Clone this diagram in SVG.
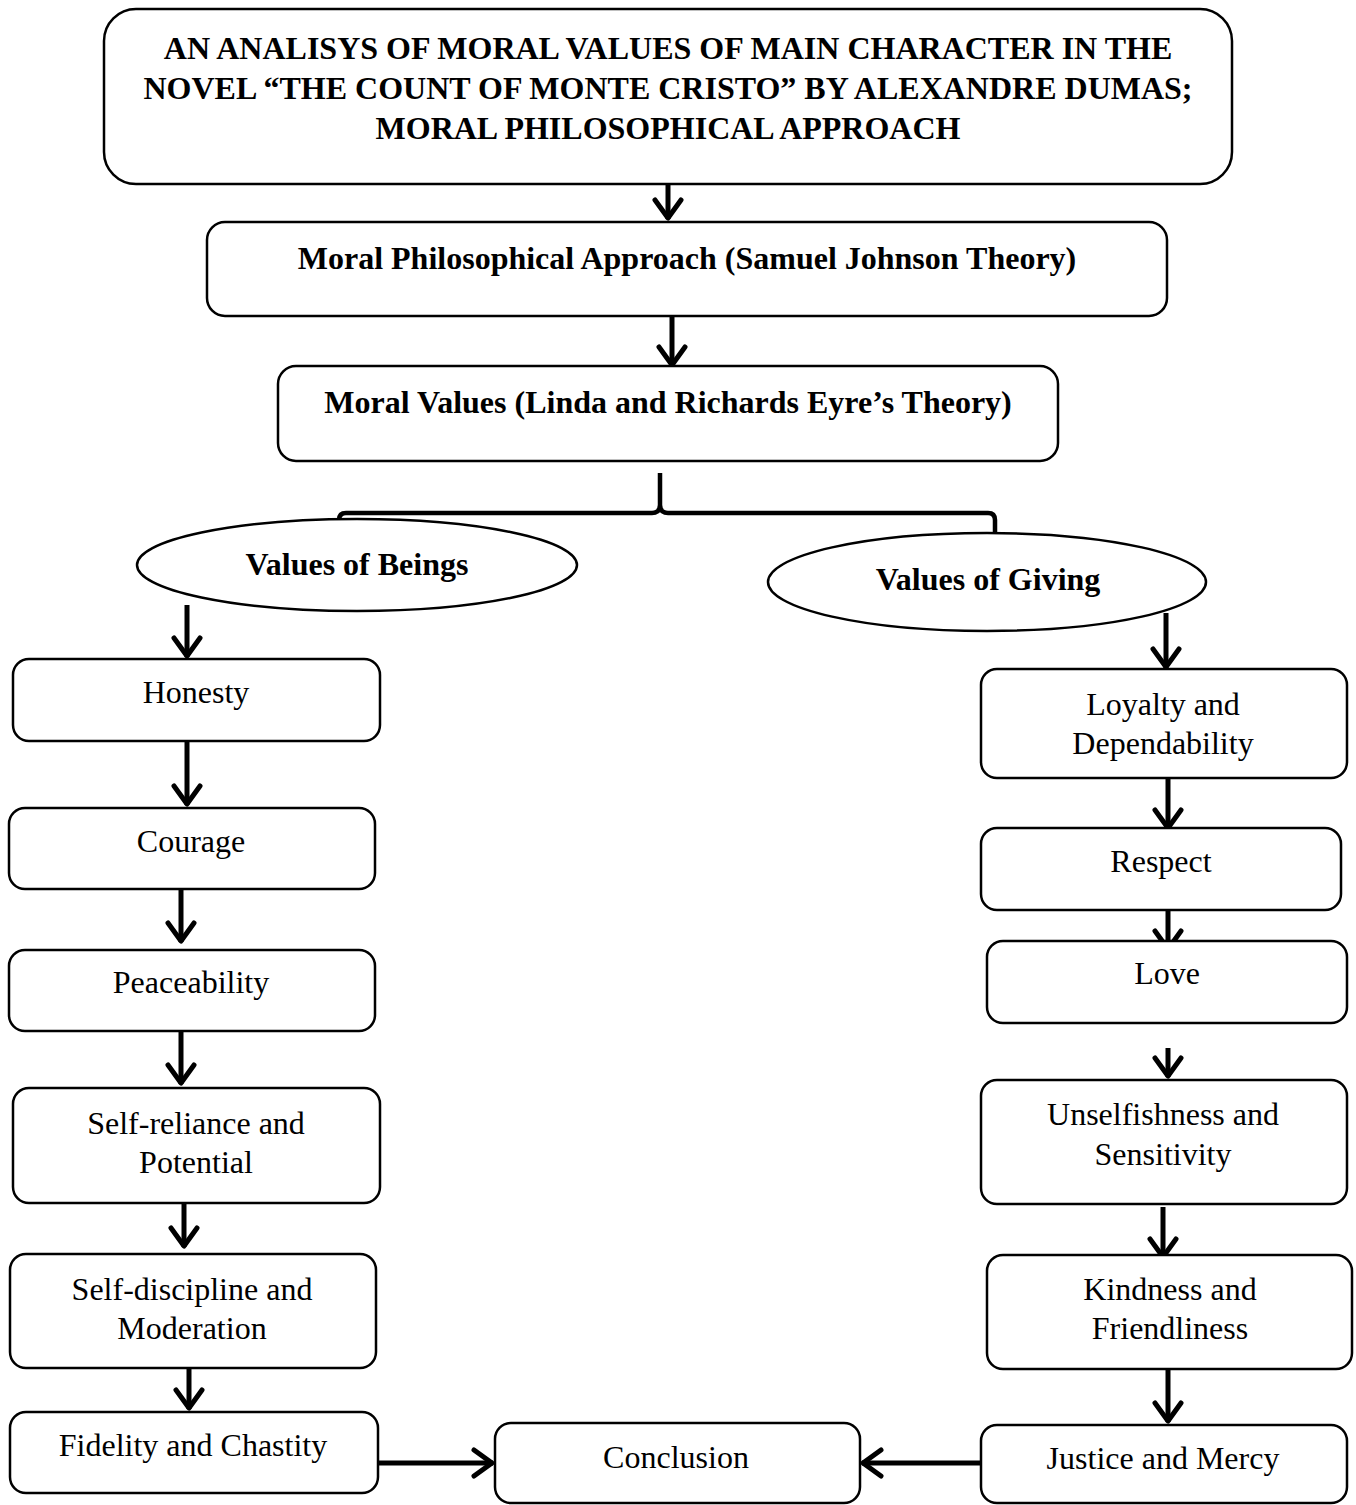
<svg xmlns="http://www.w3.org/2000/svg" width="1356" height="1505" viewBox="0 0 1356 1505">
<style>
.box{fill:#fff;stroke:#000;stroke-width:2.5}
.t{font-family:"Liberation Serif","Times New Roman",serif;font-size:32px;fill:#000;text-anchor:middle}
.b{font-weight:bold}
.c{stroke:#000;stroke-width:5;fill:none}
</style>
<defs>
<marker id="ah" markerUnits="userSpaceOnUse" viewBox="-24 -17 28 34" refX="0" refY="0" markerWidth="28" markerHeight="34" orient="auto">
<path d="M-19,-13 L-1,0 L-19,13" fill="none" stroke="#000" stroke-width="5" stroke-linecap="round" stroke-linejoin="round"/>
</marker>
</defs>
<rect width="1356" height="1505" fill="#fff"/>
<g id="connectors">
<line class="c" x1="668" y1="184" x2="668" y2="219" marker-end="url(#ah)"/>
<line class="c" x1="672" y1="316" x2="672" y2="366" marker-end="url(#ah)"/>
<path d="M339,522 L339,520 Q339,513 346,513 L652,513 Q660,513 660,505 L660,473 M660,505 Q660,513 668,513 L988,513 Q995,513 995,520 L995,533" fill="none" stroke="#000" stroke-width="4.5"/>
<line class="c" x1="187" y1="605" x2="187" y2="657" marker-end="url(#ah)"/>
<line class="c" x1="187" y1="741" x2="187" y2="805" marker-end="url(#ah)"/>
<line class="c" x1="181" y1="884" x2="181" y2="942" marker-end="url(#ah)"/>
<line class="c" x1="181" y1="1025" x2="181" y2="1084" marker-end="url(#ah)"/>
<line class="c" x1="184" y1="1203" x2="184" y2="1247" marker-end="url(#ah)"/>
<line class="c" x1="189" y1="1368" x2="189" y2="1409" marker-end="url(#ah)"/>
<line class="c" x1="378" y1="1463" x2="493" y2="1463" marker-end="url(#ah)"/>
<line class="c" x1="981" y1="1463" x2="862" y2="1463" marker-end="url(#ah)"/>
<line class="c" x1="1166" y1="613" x2="1166" y2="668" marker-end="url(#ah)"/>
<line class="c" x1="1168" y1="778" x2="1168" y2="829" marker-end="url(#ah)"/>
<line class="c" x1="1168" y1="900" x2="1168" y2="950" marker-end="url(#ah)"/>
<line class="c" x1="1168" y1="1048" x2="1168" y2="1077" marker-end="url(#ah)"/>
<line class="c" x1="1163" y1="1207" x2="1163" y2="1258" marker-end="url(#ah)"/>
<line class="c" x1="1168" y1="1369" x2="1168" y2="1422" marker-end="url(#ah)"/>
</g>
<g id="title">
<rect class="box" x="104" y="9" width="1128" height="175" rx="32"/>
<text class="t b" x="668" y="59">AN ANALISYS OF MORAL VALUES OF MAIN CHARACTER IN THE</text>
<text class="t b" x="668" y="99">NOVEL “THE COUNT OF MONTE CRISTO” BY ALEXANDRE DUMAS;</text>
<text class="t b" x="668" y="139">MORAL PHILOSOPHICAL APPROACH</text>
</g>
<g id="approach">
<rect class="box" x="207" y="222" width="960" height="94" rx="18"/>
<text class="t b" x="687" y="269">Moral Philosophical Approach (Samuel Johnson Theory)</text>
</g>
<g id="moral-values">
<rect class="box" x="278" y="366" width="780" height="95" rx="18"/>
<text class="t b" x="668" y="413">Moral Values (Linda and Richards Eyre’s Theory)</text>
</g>
<g id="values-beings">
<ellipse class="box" cx="357" cy="565" rx="220" ry="46"/>
<text class="t b" x="357" y="575">Values of Beings</text>
</g>
<g id="values-giving">
<ellipse class="box" cx="987" cy="582" rx="219" ry="49"/>
<text class="t b" x="988" y="590">Values of Giving</text>
</g>
<g id="honesty">
<rect class="box" x="13" y="659" width="367" height="82" rx="16"/>
<text class="t" x="196" y="703">Honesty</text>
</g>
<g id="courage">
<rect class="box" x="9" y="808" width="366" height="81" rx="16"/>
<text class="t" x="191" y="852">Courage</text>
</g>
<g id="peaceability">
<rect class="box" x="9" y="950" width="366" height="81" rx="16"/>
<text class="t" x="191" y="993">Peaceability</text>
</g>
<g id="self-reliance">
<rect class="box" x="13" y="1088" width="367" height="115" rx="16"/>
<text class="t" x="196" y="1134">Self-reliance and</text>
<text class="t" x="196" y="1173">Potential</text>
</g>
<g id="self-discipline">
<rect class="box" x="10" y="1254" width="366" height="114" rx="16"/>
<text class="t" x="192" y="1300">Self-discipline and</text>
<text class="t" x="192" y="1339">Moderation</text>
</g>
<g id="fidelity">
<rect class="box" x="10" y="1412" width="368" height="81" rx="16"/>
<text class="t" x="193" y="1456">Fidelity and Chastity</text>
</g>
<g id="conclusion">
<rect class="box" x="495" y="1423" width="365" height="80" rx="16"/>
<text class="t" x="676" y="1468">Conclusion</text>
</g>
<g id="loyalty">
<rect class="box" x="981" y="669" width="366" height="109" rx="16"/>
<text class="t" x="1163" y="715">Loyalty and</text>
<text class="t" x="1163" y="754">Dependability</text>
</g>
<g id="respect">
<rect class="box" x="981" y="828" width="360" height="82" rx="16"/>
<text class="t" x="1161" y="872">Respect</text>
</g>
<g id="love">
<rect class="box" x="987" y="941" width="360" height="82" rx="16"/>
<text class="t" x="1167" y="984">Love</text>
</g>
<g id="unselfishness">
<rect class="box" x="981" y="1080" width="366" height="124" rx="16"/>
<text class="t" x="1163" y="1125">Unselfishness and</text>
<text class="t" x="1163" y="1165">Sensitivity</text>
</g>
<g id="kindness">
<rect class="box" x="987" y="1255" width="365" height="114" rx="16"/>
<text class="t" x="1170" y="1300">Kindness and</text>
<text class="t" x="1170" y="1339">Friendliness</text>
</g>
<g id="justice">
<rect class="box" x="981" y="1425" width="366" height="78" rx="16"/>
<text class="t" x="1163" y="1469">Justice and Mercy</text>
</g>
</svg>
